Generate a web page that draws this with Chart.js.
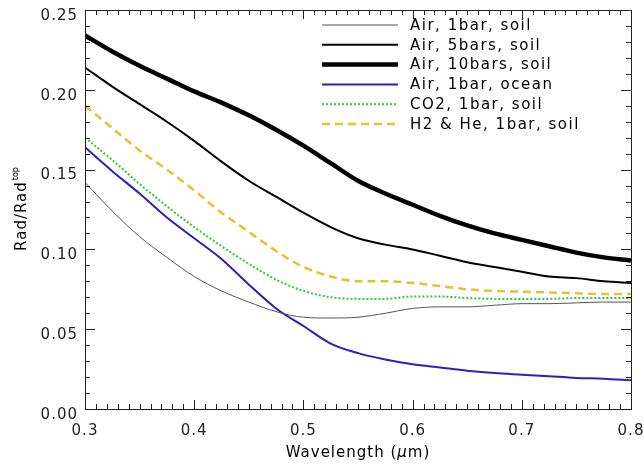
<!DOCTYPE html>
<html>
<head>
<meta charset="utf-8">
<script src="https://cdn.jsdelivr.net/npm/chart.js@4.4.1/dist/chart.umd.min.js"></script>
<style>
html,body{margin:0;padding:0;background:#fff;}
#wrap{width:644px;height:465px;position:relative;}
</style>
</head>
<body>
<div id="wrap"><canvas id="c" width="644" height="465"></canvas></div>
<script>
// Wavelength samples (micron)
const wavelengths = [0.300,0.325,0.350,0.375,0.400,0.425,0.450,0.475,0.500,0.525,0.550,0.575,0.600,0.625,0.650,0.675,0.700,0.725,0.750,0.775,0.800];
const seriesNames = ["Air, 1bar, soil","Air, 5bars, soil","Air, 10bars, soil","Air, 1bar, ocean","CO2, 1bar, soil","H2 & He, 1bar, soil"];
const air1Soil  = [0.142,0.124,0.108,0.095,0.083,0.074,0.067,0.061,0.0575,0.057,0.0575,0.060,0.063,0.064,0.064,0.065,0.066,0.066,0.0665,0.067,0.067];
const air5Soil  = [0.214,0.202,0.191,0.180,0.168,0.155,0.143,0.133,0.123,0.114,0.107,0.103,0.100,0.096,0.092,0.089,0.086,0.083,0.082,0.080,0.079];
const air10Soil = [0.234,0.224,0.215,0.207,0.199,0.192,0.184,0.175,0.165,0.154,0.143,0.135,0.128,0.121,0.115,0.110,0.106,0.102,0.098,0.095,0.093];
const air1Ocean = [0.164,0.149,0.135,0.120,0.107,0.094,0.078,0.063,0.052,0.041,0.035,0.031,0.028,0.026,0.024,0.0225,0.0215,0.0205,0.0195,0.019,0.018];
const co2Soil   = [0.170,0.156,0.141,0.127,0.114,0.102,0.091,0.081,0.074,0.070,0.069,0.069,0.0705,0.0705,0.0695,0.069,0.069,0.069,0.0695,0.0695,0.0695];
const h2heSoil  = [0.190,0.176,0.162,0.150,0.137,0.123,0.111,0.099,0.089,0.083,0.080,0.080,0.079,0.077,0.075,0.074,0.0735,0.073,0.0725,0.072,0.072];
const yTicks = [0.00,0.05,0.10,0.15,0.20,0.25];
const xTicks = [0.3,0.4,0.5,0.6,0.7,0.8];
const xMinorTicks = [0.30,0.31,0.32,0.33,0.34,0.35,0.36,0.37,0.38,0.39,0.40,0.41,0.42,0.43,0.44,0.45,0.46,0.47,0.48,0.49,0.50,0.51,0.52,0.53,0.54,0.55,0.56,0.57,0.58,0.59,0.60,0.61,0.62,0.63,0.64,0.65,0.66,0.67,0.68,0.69,0.70,0.71,0.72,0.73,0.74,0.75,0.76,0.77,0.78,0.79,0.80];
const yMinorTicks = [0.00,0.01,0.02,0.03,0.04,0.05,0.06,0.07,0.08,0.09,0.10,0.11,0.12,0.13,0.14,0.15,0.16,0.17,0.18,0.19,0.20,0.21,0.22,0.23,0.24,0.25];

const FONT = 'DejaVu Sans';
function pts(vals){ return wavelengths.map((x,i)=>({x:x,y:vals[i]})); }
const styles = [
  {color:'#555555', width:1, dash:[]},
  {color:'#000000', width:2, dash:[]},
  {color:'#000000', width:4.5, dash:[]},
  {color:'#2a20c0', width:2, dash:[]},
  {color:'#2fcc2f', width:2, dash:[2,2]},
  {color:'#e8c030', width:2.5, dash:[8,5]}
];
const allVals = [air1Soil, air5Soil, air10Soil, air1Ocean, co2Soil, h2heSoil];
const datasets = allVals.map((v,i)=>({
  label: seriesNames[i],
  data: pts(v),
  borderColor: styles[i].color,
  borderWidth: styles[i].width,
  borderDash: styles[i].dash,
  pointRadius: 0,
  fill: false,
  cubicInterpolationMode: 'monotone',
  borderCapStyle: 'butt'
}));

const spacingPlugin = {
  id:'spacing',
  beforeDraw(chart){ chart.ctx.letterSpacing = '1px'; }
};

const framePlugin = {
  id:'frame',
  afterDraw(chart){
    const ctx = chart.ctx, a = chart.chartArea;
    const xs = chart.scales.x, ys = chart.scales.y;
    ctx.save();
    // Legend
    ctx.letterSpacing = '1.5px';
    ctx.font = '15px "' + FONT + '"';
    ctx.textBaseline = 'middle';
    ctx.textAlign = 'left';
    chart.data.datasets.forEach((ds,i)=>{
      const y = 25 + i*19.8;
      ctx.beginPath();
      ctx.strokeStyle = ds.borderColor;
      ctx.lineWidth = ds.borderWidth;
      ctx.setLineDash(ds.borderDash);
      ctx.moveTo(322, y); ctx.lineTo(398, y);
      ctx.stroke();
      ctx.fillStyle = '#000';
      ctx.fillText(ds.label, 410, y+1);
    });
    ctx.setLineDash([]);

    // Axis titles
    ctx.letterSpacing = '1px';
    ctx.fillStyle = '#000';
    const cx = (a.left + a.right)/2;
    const ty = 453;
    const p1 = 'Wavelength (', p2 = '\u03bc', p3 = 'm)';
    ctx.font = '15px "' + FONT + '"';
    const w1 = ctx.measureText(p1).width, w3 = ctx.measureText(p3).width;
    ctx.font = 'italic 15px "' + FONT + '"';
    const w2 = ctx.measureText(p2).width;
    const sx = cx - (w1+w2+w3)/2;
    ctx.font = '15px "' + FONT + '"';
    ctx.fillText(p1, sx, ty);
    ctx.font = 'italic 15px "' + FONT + '"';
    ctx.fillText(p2, sx+w1, ty);
    ctx.font = '15px "' + FONT + '"';
    ctx.fillText(p3, sx+w1+w2, ty);

    // y title rotated with superscript
    ctx.save();
    ctx.translate(22, (a.top+a.bottom)/2);
    ctx.rotate(-Math.PI/2);
    const m1 = 'Rad/Rad', m2 = 'top';
    ctx.font = '15px "' + FONT + '"';
    const q1 = ctx.measureText(m1).width;
    ctx.letterSpacing = '0px';
    ctx.font = '8px "' + FONT + '"';
    const q2 = ctx.measureText(m2).width;
    const st = -(q1+q2)/2;
    ctx.letterSpacing = '1px';
    ctx.font = '15px "' + FONT + '"';
    ctx.fillText(m1, st, 0);
    ctx.letterSpacing = '0px';
    ctx.font = '8px "' + FONT + '"';
    ctx.fillText(m2, st+q1+1, -6);
    ctx.restore();

    // Frame and inward ticks (drawn last)
    ctx.letterSpacing = '0px';
    ctx.fillStyle = '#222222';
    const L = Math.round(a.left), R = Math.round(a.right), T = Math.round(a.top), B = Math.round(a.bottom);
    ctx.fillRect(L, T, R-L+1, 1);
    ctx.fillRect(L, B, R-L+1, 1);
    ctx.fillRect(L, T, 1, B-T+1);
    ctx.fillRect(R, T, 1, B-T+1);
    xMinorTicks.forEach((v,k)=>{
      const px = Math.round(xs.getPixelForValue(v));
      const len = (k%10===0) ? 9 : 5;
      ctx.fillRect(px, B-len, 1, len);
      ctx.fillRect(px, T, 1, len);
    });
    yMinorTicks.forEach((v,k)=>{
      const py = Math.round(ys.getPixelForValue(v));
      const len = (k%5===0) ? 10 : 5;
      ctx.fillRect(L, py, len, 1);
      ctx.fillRect(R-len, py, len, 1);
    });
    ctx.restore();
  }
};

new Chart(document.getElementById('c'), {
  type: 'line',
  data: { datasets: datasets },
  options: {
    responsive: false,
    animation: false,
    devicePixelRatio: 1,
    layout: { padding: { left: 0, right: 13, top: 10, bottom: 0 } },
    plugins: { legend: { display: false }, tooltip: { enabled: false }, title: { display: false } },
    scales: {
      x: {
        type: 'linear', min: 0.3, max: 0.8,
        afterBuildTicks(scale){ scale.ticks = xTicks.map(v=>({value:v})); },
        ticks: { callback: v => v.toFixed(1), font: { family: FONT, size: 15 }, color: '#222', padding: 13, maxRotation: 0, autoSkip: false },
        grid: { display: false, drawTicks: false },
        border: { display: false },
        afterFit(scale){ scale.height = 56; scale.paddingLeft = 0; scale.paddingRight = 0; }
      },
      y: {
        type: 'linear', min: 0, max: 0.25,
        afterBuildTicks(scale){ scale.ticks = yTicks.map(v=>({value:v})); },
        ticks: { callback: v => v.toFixed(2), font: { family: FONT, size: 15 }, color: '#222', padding: 7, labelOffset: 6, autoSkip: false },
        grid: { display: false, drawTicks: false },
        border: { display: false },
        afterFit(scale){ scale.width = 85; scale.paddingTop = 0; scale.paddingBottom = 0; }
      }
    }
  },
  plugins: [spacingPlugin, framePlugin]
});
</script>
</body>
</html>
